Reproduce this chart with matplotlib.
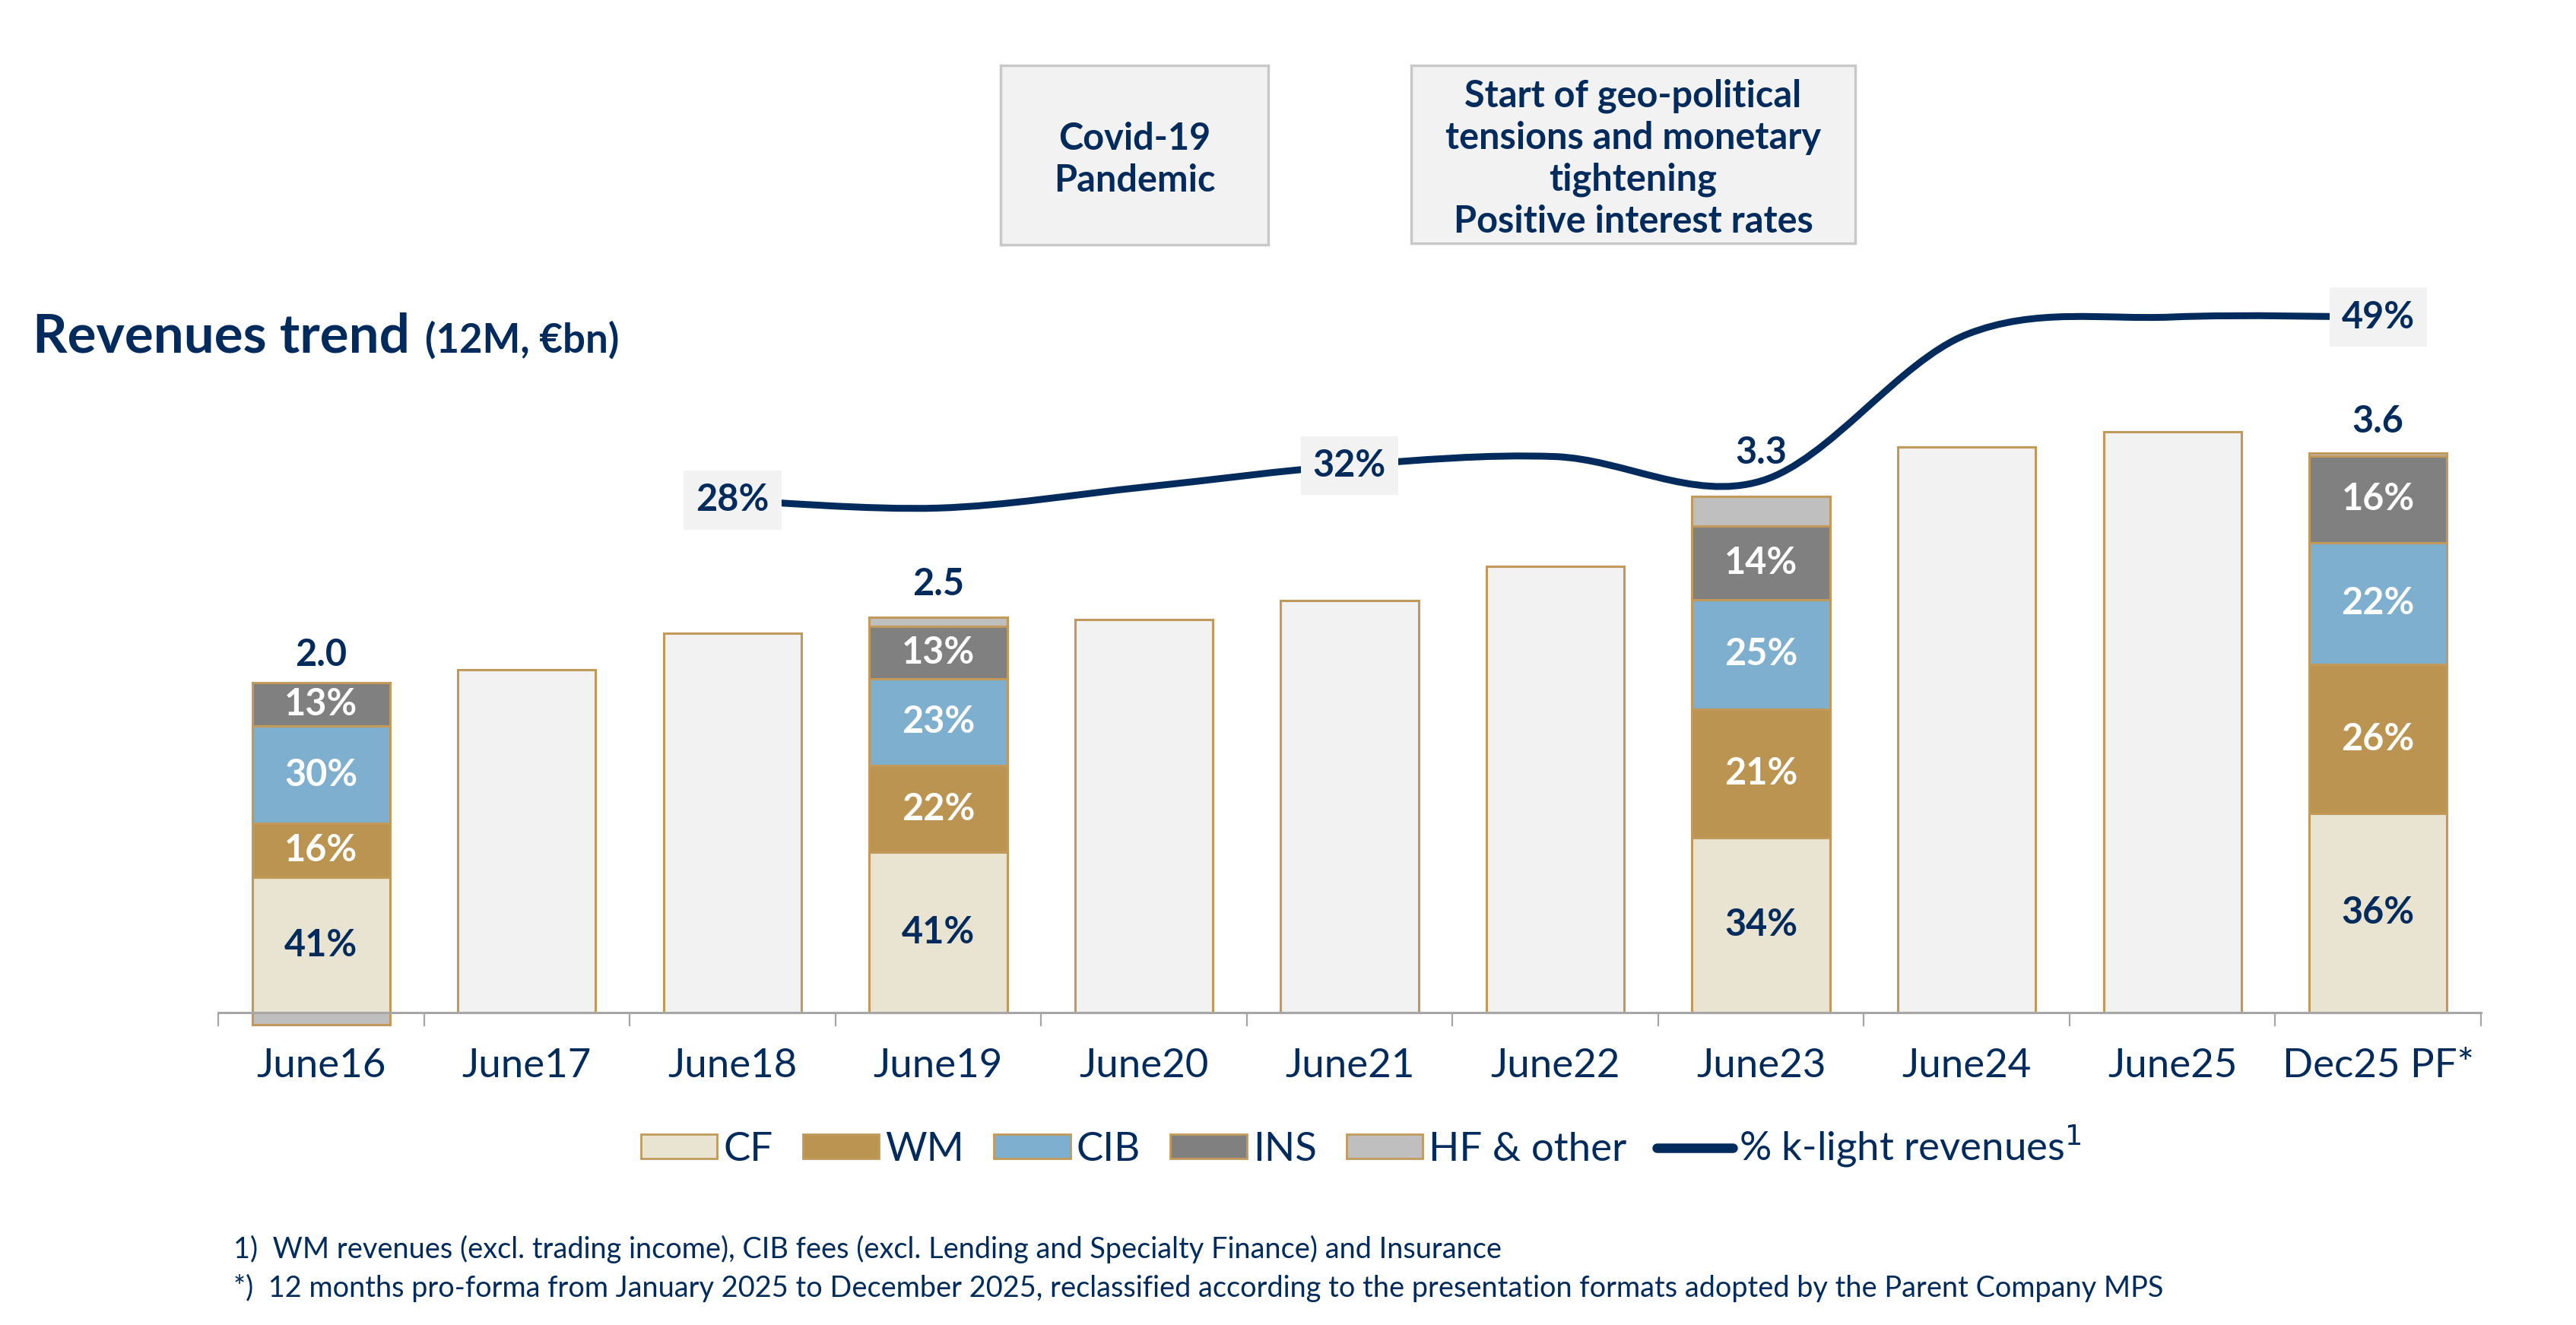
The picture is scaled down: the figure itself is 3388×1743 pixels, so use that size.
import matplotlib
matplotlib.use('Agg')
import matplotlib.pyplot as plt
from matplotlib.patches import Rectangle, Patch, PathPatch
from matplotlib.lines import Line2D
from matplotlib.path import Path
import numpy as np

plt.rcParams['font.family'] = ['Lato', 'DejaVu Sans']

# ---------------- data ----------------
categories = ['June16', 'June17', 'June18', 'June19', 'June20', 'June21',
              'June22', 'June23', 'June24', 'June25', 'Dec25 PF*']
totals = [2.11, 2.19, 2.42, 2.52, 2.51, 2.63, 2.85, 3.30, 3.61, 3.71, 3.57]

split_idx = [0, 3, 7, 10]
cf = [0.864, 1.022, 1.117, 1.272]
wm = [0.344, 0.557, 0.822, 0.950]
cib = [0.622, 0.554, 0.699, 0.780]
ins = [0.279, 0.334, 0.471, 0.552]
hf = [-0.08, 0.056, 0.189, 0.02]
cf_pct = ['41%', '41%', '34%', '36%']
wm_pct = ['16%', '22%', '21%', '26%']
cib_pct = ['30%', '23%', '25%', '22%']
ins_pct = ['13%', '13%', '14%', '16%']
total_labels = ['2.0', '2.5', '3.3', '3.6']

line_idx = [2, 3, 4, 5, 6, 7, 8, 9, 10]
klight = [28, 27.1, 29.5, 32, 33.0, 30.2, 47.0, 49, 49]
klight_label_idx = [2, 5, 10]
klight_labels = ['28%', '32%', '49%']

series_names = ['CF', 'WM', 'CIB', 'INS', 'HF & other']
line_name = '% k-light revenues$^{1}$'

# ---------------- style ----------------
NAVY = '#002B5C'
GOLD = '#C19A5B'
CF_C = '#E9E4D1'
WM_C = '#BC9452'
CIB_C = '#7FAFCE'
INS_C = '#808080'
HF_C = '#BFBFBF'
PLAIN = '#F2F2F2'
AXIS_C = '#A6A6A6'
total_offsets = [15.5, 21, 30.5, 19.5]  # label offsets above bar tops (pt)

W, H = 3388, 1743
DPI = 100
fig = plt.figure(figsize=(W / DPI, H / DPI), dpi=DPI)

ax_left, ax_right = 287, 3263
ax_base, ax_top = 1332, 300
px_per_bn = 206.0
ax = fig.add_axes([ax_left / W, 1 - ax_base / H, (ax_right - ax_left) / W,
                   (ax_base - ax_top) / H])
ax.set_xlim(-0.5, len(categories) - 0.5)
ax.set_ylim(0, (ax_base - ax_top) / px_per_bn)

BW = 0.67
x = np.arange(len(categories))

# plain bars
plain_idx = [i for i in range(len(categories)) if i not in split_idx]
ax.bar([x[i] for i in plain_idx], [totals[i] for i in plain_idx], width=BW,
       color=PLAIN, edgecolor=GOLD, linewidth=2.2, zorder=2)

# stacked bars
sx = np.array([x[i] for i in split_idx])
cf_a, wm_a, cib_a, ins_a, hf_a = map(np.array, (cf, wm, cib, ins, hf))
b_wm = cf_a
b_cib = cf_a + wm_a
b_ins = b_cib + cib_a
b_hf = np.where(hf_a > 0, b_ins + ins_a, 0)
kw = dict(width=BW, edgecolor=GOLD, linewidth=2.2, zorder=2, clip_on=False)
ax.bar(sx, cf_a, color=CF_C, **kw)
ax.bar(sx, wm_a, bottom=b_wm, color=WM_C, **kw)
ax.bar(sx, cib_a, bottom=b_cib, color=CIB_C, **kw)
ax.bar(sx, ins_a, bottom=b_ins, color=INS_C, **kw)
ax.bar(sx, hf_a, bottom=b_hf, color=HF_C, **kw)

LFS = 35
for j, xi in enumerate(sx):
    ax.text(xi, cf_a[j] / 2, cf_pct[j], ha='center', va='center', fontsize=LFS,
            weight='bold', color=NAVY, zorder=5)
    ax.text(xi, b_wm[j] + wm_a[j] / 2, wm_pct[j], ha='center', va='center',
            fontsize=LFS, weight='bold', color='white', zorder=5)
    ax.text(xi, b_cib[j] + cib_a[j] / 2, cib_pct[j], ha='center', va='center',
            fontsize=LFS, weight='bold', color='white', zorder=5)
    ax.text(xi, b_ins[j] + ins_a[j] / 2, ins_pct[j], ha='center', va='center',
            fontsize=LFS, weight='bold', color='white', zorder=5)
    top = b_ins[j] + ins_a[j] + max(hf_a[j], 0)
    ax.annotate(total_labels[j], (xi, top), xytext=(0, total_offsets[j]),
                textcoords='offset points', ha='center', va='baseline',
                fontsize=LFS, weight='bold', color=NAVY, zorder=5)

# axes styling
for s in ['left', 'right', 'top']:
    ax.spines[s].set_visible(False)
ax.spines['bottom'].set_color(AXIS_C)
ax.spines['bottom'].set_linewidth(2.2)
ax.spines['bottom'].set_zorder(3)
ax.set_yticks([])
ax.set_xticks(x)
ax.set_xticklabels(categories, fontsize=38, color=NAVY)
ax.set_xticks(np.arange(-0.5, len(categories)), minor=True)
ax.tick_params(axis='x', which='major', length=0, pad=34)
ax.tick_params(axis='x', which='minor', length=13, width=1.6, color=AXIS_C,
               direction='out')

# ---------------- k-light line ----------------
ax2 = ax.twinx()
px_per_pct = 11.476
zero_px = 674 - 28 * px_per_pct
ax2.set_ylim(-zero_px / px_per_pct, ((ax_base - ax_top) - zero_px) / px_per_pct)
for s in ax2.spines.values():
    s.set_visible(False)
ax2.set_yticks([])

P = np.column_stack([np.array(line_idx, float), np.array(klight, float)])
n = len(P)
verts = [P[0]]
codes = [Path.MOVETO]
for i in range(n - 1):
    p0 = P[i - 1] if i > 0 else P[i]
    p3 = P[i + 2] if i + 2 < n else P[i + 1]
    c1 = P[i] + (P[i + 1] - p0) / 6.0
    c2 = P[i + 1] - (p3 - P[i]) / 6.0
    verts += [c1, c2, P[i + 1]]
    codes += [Path.CURVE4] * 3
ax2.add_patch(PathPatch(Path(verts, codes), fill=False, edgecolor=NAVY,
                        lw=6.5, capstyle='round', zorder=3))
for idx, lab in zip(klight_label_idx, klight_labels):
    val = klight[line_idx.index(idx)]
    ax2.text(idx, val, lab, ha='center', va='center', fontsize=LFS,
             weight='bold', color=NAVY, zorder=6,
             bbox=dict(boxstyle='square,pad=0.33', fc=PLAIN, ec='none'))

# ---------------- title & boxes ----------------
t1 = fig.text(43 / W, 1 - 463 / H, 'Revenues trend', fontsize=51, weight='bold',
              color=NAVY, va='baseline')
fig.canvas.draw()
bb = t1.get_window_extent(renderer=fig.canvas.get_renderer())
fig.text((bb.x1 + 20) / W, 1 - 463 / H, '(12M, €bn)', fontsize=38,
         weight='bold', color=NAVY, va='baseline')

boxes = [((1316, 86, 1668, 322), 'Covid-19\nPandemic'),
         ((1856, 86, 2440, 320),
          'Start of geo-political\ntensions and monetary\ntightening\nPositive interest rates')]
for (x0, y0, x1, y1), txt in boxes:
    fig.patches.append(Rectangle((x0 / W, 1 - y1 / H), (x1 - x0) / W, (y1 - y0) / H,
                                 transform=fig.transFigure, fc=PLAIN, ec='#C8C8C8',
                                 lw=2.5))
    fig.text((x0 + x1) / 2 / W, 1 - ((y0 + y1) / 2 + 6) / H, txt, ha='center',
             va='center', fontsize=35, weight='bold', color=NAVY,
             linespacing=1.27)

# ---------------- legend ----------------
fills = [CF_C, WM_C, CIB_C, INS_C, HF_C]
handles = [Patch(facecolor=c, edgecolor=GOLD, linewidth=2) for c in fills]
handles.append(Line2D([0], [0], color=NAVY, lw=9, solid_capstyle='round'))
fig.legend(handles, series_names + [line_name], loc='center',
           bbox_to_anchor=(0.5285, 1 - 1508 / H), ncol=6, frameon=False,
           fontsize=38, labelcolor=NAVY, handlelength=1.9, handleheight=0.55,
           handletextpad=0.15, columnspacing=0.75)

# ---------------- footnotes ----------------
fig.text(307 / W, 1 - 1643 / H,
         '1)  WM revenues (excl. trading income), CIB fees (excl. Lending and Specialty Finance) and Insurance',
         fontsize=27.3, color=NAVY, va='center')
fig.text(307 / W, 1 - 1694 / H,
         '*)  12 months pro-forma from January 2025 to December 2025, reclassified according to the presentation formats adopted by the Parent Company MPS',
         fontsize=27.3, color=NAVY, va='center')

fig.savefig('out.png', dpi=DPI)
